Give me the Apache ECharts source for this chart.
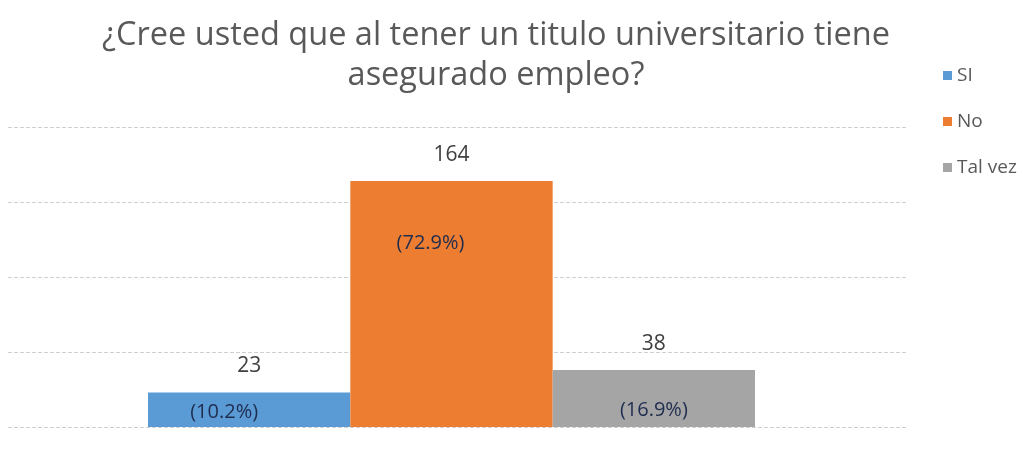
<!DOCTYPE html>
<html>
<head>
<meta charset="utf-8">
<script src="https://cdn.jsdelivr.net/npm/echarts@6/dist/echarts.min.js"></script>
<style>
  html, body { margin: 0; padding: 0; background: #fff; }
  #chart { width: 1026px; height: 454px; }
</style>
</head>
<body>
<div id="chart"></div>
<script>
var chartDom = document.getElementById('chart');
var myChart = echarts.init(chartDom);

// datos
var categories = ['SI', 'No', 'Tal vez'];
var counts = [23, 164, 38];
var percents = ['10.2%', '72.9%', '16.9%'];
var colors = ['#5B9BD5', '#ED7D31', '#A5A5A5'];

// posición de la etiqueta de porcentaje dentro de cada barra
var pctLabel = [
  { position: 'insideBottom', distance: 5, offset: [-25, 0] },
  { position: 'insideTop', distance: 52, offset: [-21, 0] },
  { position: 'insideBottom', distance: 7, offset: [0, 0] }
];

var series = categories.map(function (name, i) {
  var data = categories.map(function (c, j) { return j === i ? counts[i] : '-'; });
  return {
    name: name,
    type: 'bar',
    stack: 'total',
    xAxisIndex: 0,
    yAxisIndex: 0,
    barCategoryGap: '0%',
    itemStyle: { color: colors[i] },
    label: {
      show: true,
      position: pctLabel[i].position,
      distance: pctLabel[i].distance,
      offset: pctLabel[i].offset,
      formatter: function () { return '(' + percents[i] + ')'; },
      color: '#1F2D4F',
      fontSize: 20,
      fontWeight: 500,
      fontFamily: 'Open Sans'
    },
    markPoint: {
      symbol: 'circle',
      symbolSize: 0,
      data: [{ type: 'max' }],
      label: {
        show: true,
        offset: [0, -26],
        formatter: '{c}',
        color: '#404040',
        fontSize: 21,
        fontFamily: 'Open Sans'
      }
    },
    data: data
  };
});

var option = {
  animation: false,
  title: {
    text: '¿Cree usted que al tener un titulo universitario tiene\nasegurado empleo?',
    left: 491,
    top: 11,
    textAlign: 'center',
    textStyle: {
      color: '#595959',
      fontSize: 32.5,
      fontWeight: 'normal',
      fontFamily: 'Open Sans',
      lineHeight: 40
    }
  },
  legend: {
    orient: 'vertical',
    left: 938,
    top: 61,
    icon: 'rect',
    itemWidth: 9,
    itemHeight: 9,
    itemGap: 27,
    data: categories,
    textStyle: { color: '#595959', fontSize: 19, lineHeight: 19, fontFamily: 'Open Sans' }
  },
  grid: [
    { left: 148, right: 271, top: 127, bottom: 27 },
    { left: 8, right: 118, top: 127, bottom: 27 }
  ],
  xAxis: [
    {
      type: 'category',
      gridIndex: 0,
      data: categories,
      axisLine: { show: false },
      axisTick: { show: false },
      axisLabel: { show: false }
    },
    {
      type: 'category',
      gridIndex: 1,
      data: [''],
      axisLine: { show: false },
      axisTick: { show: false },
      axisLabel: { show: false }
    }
  ],
  yAxis: [
    {
      type: 'value',
      gridIndex: 0,
      min: 0,
      max: 200,
      interval: 50,
      axisLabel: { show: false },
      splitLine: { show: false }
    },
    {
      type: 'value',
      gridIndex: 1,
      min: 0,
      max: 200,
      interval: 50,
      axisLabel: { show: false },
      splitLine: { show: true, lineStyle: { color: '#D0D0D0', type: 'dashed', width: 1 } }
    }
  ],
  series: series
};

myChart.setOption(option);

window.onresize = () => {
  myChart.resize();
}
</script>
</body>
</html>
